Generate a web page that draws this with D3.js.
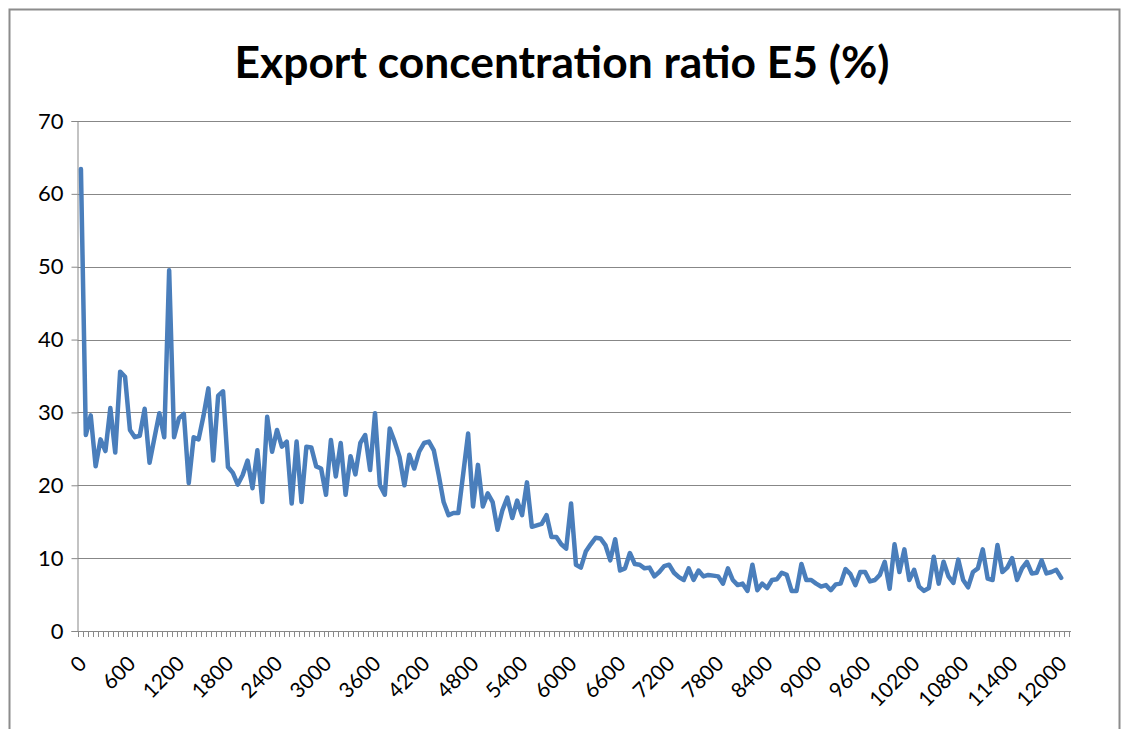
<!DOCTYPE html>
<html>
<head>
<meta charset="utf-8">
<script src="https://cdn.jsdelivr.net/npm/d3@7"></script>
<style>
  body { margin: 0; background: #fff; }
  text { font-family: Lato, "Open Sans", sans-serif; fill: #000; }
</style>
</head>
<body>
<div id="vis"></div>
<script>
// data (x category every 60, E5 in %)
const categories = d3.range(0, 12001, 60);
const e5 = [
  63.4, 26.9, 29.6, 22.6, 26.3, 24.7, 30.6, 24.5, 35.6, 34.9,
  27.6, 26.6, 26.8, 30.5, 23.1, 26.5, 29.9, 26.6, 49.5, 26.6,
  29.2, 29.8, 20.3, 26.6, 26.3, 29.5, 33.3, 23.4, 32.3, 32.9,
  22.5, 21.7, 20.1, 21.4, 23.4, 19.6, 24.8, 17.7, 29.4, 24.6,
  27.6, 25.3, 26.0, 17.5, 26.0, 17.7, 25.3, 25.2, 22.6, 22.3,
  18.7, 26.2, 21.2, 25.8, 18.7, 24.0, 21.5, 25.8, 26.9, 22.1,
  29.9, 20.0, 18.7, 27.8, 26.0, 23.9, 20.0, 24.2, 22.3, 24.6,
  25.8, 26.0, 24.8, 21.4, 17.7, 15.9, 16.2, 16.2, 21.6, 27.1,
  17.1, 22.8, 17.1, 18.9, 17.7, 13.9, 16.6, 18.3, 15.5, 17.9,
  15.9, 20.4, 14.3, 14.5, 14.7, 15.9, 12.9, 12.9, 11.9, 11.3,
  17.5, 9.1, 8.7, 10.9, 11.9, 12.8, 12.7, 11.8, 9.7, 12.6,
  8.3, 8.6, 10.7, 9.2, 9.1, 8.6, 8.7, 7.5, 8.1, 8.9,
  9.1, 8.0, 7.4, 7.0, 8.6, 7.0, 8.3, 7.5, 7.7, 7.6,
  7.5, 6.5, 8.6, 7.0, 6.3, 6.5, 5.5, 9.1, 5.6, 6.5,
  5.9, 7.0, 7.1, 8.0, 7.7, 5.5, 5.5, 9.2, 7.0, 7.0,
  6.5, 6.1, 6.3, 5.6, 6.4, 6.5, 8.5, 7.8, 6.3, 8.1,
  8.1, 6.8, 7.0, 7.7, 9.5, 5.8, 11.9, 8.1, 11.2, 7.0,
  8.4, 6.1, 5.5, 5.9, 10.2, 6.5, 9.5, 7.5, 6.6, 9.8,
  7.0, 6.0, 8.1, 8.6, 11.2, 7.2, 7.0, 11.8, 8.1, 8.7,
  10.0, 7.0, 8.6, 9.5, 7.9, 8.0, 9.7, 7.9, 8.1, 8.4, 7.3
];
const xLabels = ["0", "600", "1200", "1800", "2400", "3000", "3600", "4200", "4800", "5400",
  "6000", "6600", "7200", "7800", "8400", "9000", "9600", "10200", "10800", "11400", "12000"];
const yTicks = [0, 10, 20, 30, 40, 50, 60, 70];

const width = 1125;
const height = 729;
const plotLeft = 77.5, plotRight = 1071, plotTop = 121, plotBottom = 631;

const svg = d3.select('#vis')
  .append('svg')
  .attr('width', width)
  .attr('height', height);

// chart frame
svg.append('rect')
  .attr('x', 9.5).attr('y', 9.5)
  .attr('width', 1110).attr('height', 760)
  .attr('fill', '#fff')
  .attr('stroke', '#8c8c8c')
  .attr('stroke-width', 2);

svg.append('text')
  .attr('x', 562).attr('y', 78)
  .attr('text-anchor', 'middle')
  .attr('font-size', 44)
  .attr('font-weight', 700)
  .attr('textLength', 655)
  .attr('lengthAdjust', 'spacingAndGlyphs')
  .text('Export concentration ratio E5 (%)');

// category index -> x (2 empty slots at the end like the original)
const x = d3.scaleLinear()
  .domain([-0.7, categories.length + 1])
  .range([plotLeft, plotRight]);

const y = d3.scaleLinear()
  .domain([0, 70])
  .range([plotBottom, plotTop]);

// gridlines
svg.append('g')
  .selectAll('line')
  .data(yTicks.filter(d => d > 0))
  .join('line')
  .attr('x1', plotLeft).attr('x2', plotRight)
  .attr('y1', d => Math.round(y(d)) + 0.5)
  .attr('y2', d => Math.round(y(d)) + 0.5)
  .attr('stroke', '#878787')
  .attr('stroke-width', 1);

// y axis
const yAxis = svg.append('g')
  .attr('transform', `translate(${plotLeft},0)`)
  .call(d3.axisLeft(y).tickValues(yTicks).tickSize(6).tickPadding(8).tickFormat(d3.format('d')));
yAxis.select('.domain').attr('stroke', '#878787');
yAxis.selectAll('.tick line').attr('stroke', '#878787');
yAxis.selectAll('.tick text')
  .attr('font-size', 22)
  .attr('font-family', 'Lato, sans-serif')
  .attr('fill', '#000');

// x axis line + ticks at category boundaries
const bounds = d3.range(-0.5, categories.length + 1, 1);
svg.append('line')
  .attr('x1', plotLeft).attr('x2', plotRight)
  .attr('y1', plotBottom + 0.5).attr('y2', plotBottom + 0.5)
  .attr('stroke', '#878787');
svg.append('g')
  .selectAll('line')
  .data(bounds)
  .join('line')
  .attr('x1', d => Math.round(x(d)) + 0.5)
  .attr('x2', d => Math.round(x(d)) + 0.5)
  .attr('y1', plotBottom)
  .attr('y2', plotBottom + 6)
  .attr('stroke', '#8a8a8a');

// x labels, every 10th category
svg.append('g')
  .selectAll('text')
  .data(xLabels)
  .join('text')
  .attr('font-size', 21)
  .attr('text-anchor', 'end')
  .attr('transform', (d, i) => `translate(${x(i * 10) + 7},${plotBottom + 34}) rotate(-45)`)
  .text(d => d);

// the series
const line = d3.line()
  .x((d, i) => x(i))
  .y(d => y(d));

svg.append('path')
  .datum(e5)
  .attr('fill', 'none')
  .attr('stroke', '#4a7ebb')
  .attr('stroke-width', 4.5)
  .attr('stroke-linejoin', 'round')
  .attr('stroke-linecap', 'round')
  .attr('d', line);
</script>
</body>
</html>
